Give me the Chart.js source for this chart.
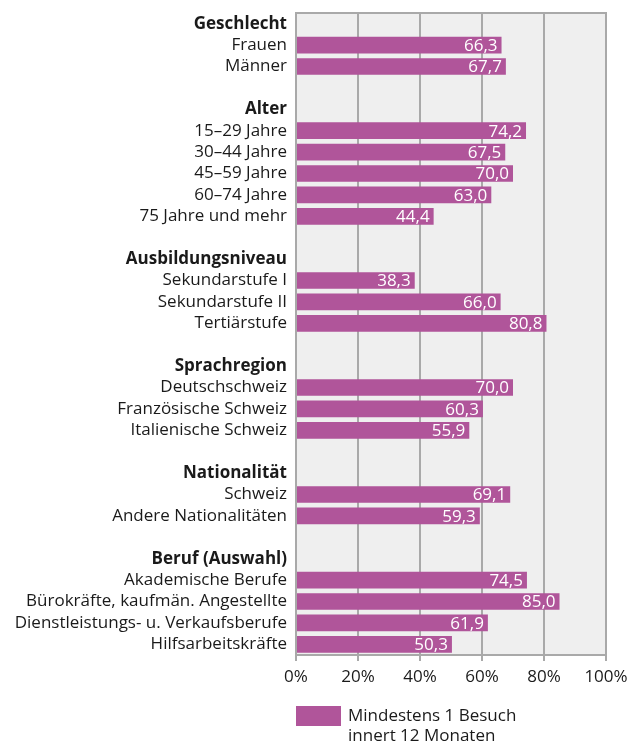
<!DOCTYPE html>
<html>
<head>
<meta charset="utf-8">
<script src="https://cdn.jsdelivr.net/npm/chart.js@4.4.0/dist/chart.umd.min.js"></script>
<style>
  html, body { margin: 0; padding: 0; background: #fff; }
  #wrap { width: 629px; height: 743px; }
</style>
</head>
<body>
<div id="wrap"><canvas id="chart" width="629" height="743"></canvas></div>
<script>
// rows top to bottom, '' = spacer row
const labels = [
  'Geschlecht', 'Frauen', 'Männer', '',
  'Alter', '15–29 Jahre', '30–44 Jahre', '45–59 Jahre', '60–74 Jahre', '75 Jahre und mehr', '',
  'Ausbildungsniveau', 'Sekundarstufe I', 'Sekundarstufe II', 'Tertiärstufe', '',
  'Sprachregion', 'Deutschschweiz', 'Französische Schweiz', 'Italienische Schweiz', '',
  'Nationalität', 'Schweiz', 'Andere Nationalitäten', '',
  'Beruf (Auswahl)', 'Akademische Berufe', 'Bürokräfte, kaufmän. Angestellte', 'Dienstleistungs- u. Verkaufsberufe', 'Hilfsarbeitskräfte'
];
const headers = ['Geschlecht', 'Alter', 'Ausbildungsniveau', 'Sprachregion', 'Nationalität', 'Beruf (Auswahl)'];
const values = [
  null, 66.3, 67.7, null,
  null, 74.2, 67.5, 70.0, 63.0, 44.4, null,
  null, 38.3, 66.0, 80.8, null,
  null, 70.0, 60.3, 55.9, null,
  null, 69.1, 59.3, null,
  null, 74.5, 85.0, 61.9, 50.3
];
const xTicks = [0, 20, 40, 60, 80, 100];
const seriesName = ['Mindestens 1 Besuch', 'innert 12 Monaten'];

const barColor = '#b0559a';
const gridColor = '#a9a9a9';
const fontFamily = '"Open Sans", "DejaVu Sans", sans-serif';
const fontSize = 17;

const chartDecor = {
  id: 'chartDecor',
  beforeDraw(chart) {
    const { ctx, chartArea: a } = chart;
    ctx.save();
    ctx.fillStyle = '#efefef';
    ctx.fillRect(a.left, a.top, a.right - a.left, a.bottom - a.top);
    ctx.restore();
  },
  afterDatasetsDraw(chart) {
    const { ctx, chartArea: a } = chart;
    ctx.save();
    // frame
    ctx.strokeStyle = gridColor;
    ctx.lineWidth = 2;
    ctx.strokeRect(a.left, a.top, a.right - a.left, a.bottom - a.top);
    // value labels
    const meta = chart.getDatasetMeta(0);
    ctx.fillStyle = '#ffffff';
    ctx.font = fontSize + 'px ' + fontFamily;
    ctx.textAlign = 'right';
    ctx.textBaseline = 'middle';
    meta.data.forEach((bar, i) => {
      const v = values[i];
      if (v === null) return;
      ctx.fillText(v.toFixed(1).replace('.', ','), bar.x - 4, bar.y + 1);
    });
    // legend
    const lx = a.left;
    const ly = a.bottom + 51;
    ctx.fillStyle = barColor;
    ctx.fillRect(lx, ly, 45, 20);
    ctx.fillStyle = '#1a1a1a';
    ctx.textAlign = 'left';
    ctx.fillText(seriesName[0], lx + 52, ly + 10);
    ctx.fillText(seriesName[1], lx + 52, ly + 30);
    ctx.restore();
  }
};

new Chart(document.getElementById('chart'), {
  type: 'bar',
  data: {
    labels: labels,
    datasets: [{
      label: seriesName.join(' '),
      data: values,
      backgroundColor: barColor,
      borderWidth: 0,
      barPercentage: 0.78,
      categoryPercentage: 1.0
    }]
  },
  options: {
    indexAxis: 'y',
    responsive: false,
    animation: false,
    layout: { padding: { top: 13, right: 23, bottom: 58, left: 0 } },
    plugins: {
      legend: { display: false },
      tooltip: { enabled: false }
    },
    scales: {
      x: {
        min: 0,
        max: 100,
        afterBuildTicks: (scale) => { scale.ticks = xTicks.map(v => ({ value: v })); },
        afterFit: (scale) => {
          scale.height = 30;
          scale.paddingLeft = 0;
          scale.paddingRight = 0;
        },
        grid: {
          color: gridColor,
          lineWidth: 2,
          tickLength: 6,
          drawOnChartArea: true
        },
        border: { display: false },
        ticks: {
          color: '#1a1a1a',
          font: { family: fontFamily, size: fontSize },
          padding: 6,
          maxRotation: 0,
          callback: (v) => v + '%'
        }
      },
      y: {
        afterFit: (scale) => {
          scale.width = 296;
          scale.paddingTop = 0;
          scale.paddingBottom = 0;
        },
        grid: { display: false },
        border: { display: false },
        ticks: {
          color: '#1a1a1a',
          padding: 1,
          autoSkip: false,
          font: (ctx) => ({
            family: fontFamily,
            size: fontSize,
            weight: headers.includes(labels[ctx.index]) ? 'bold' : 'normal'
          })
        }
      }
    }
  },
  plugins: [chartDecor]
});
</script>
</body>
</html>
